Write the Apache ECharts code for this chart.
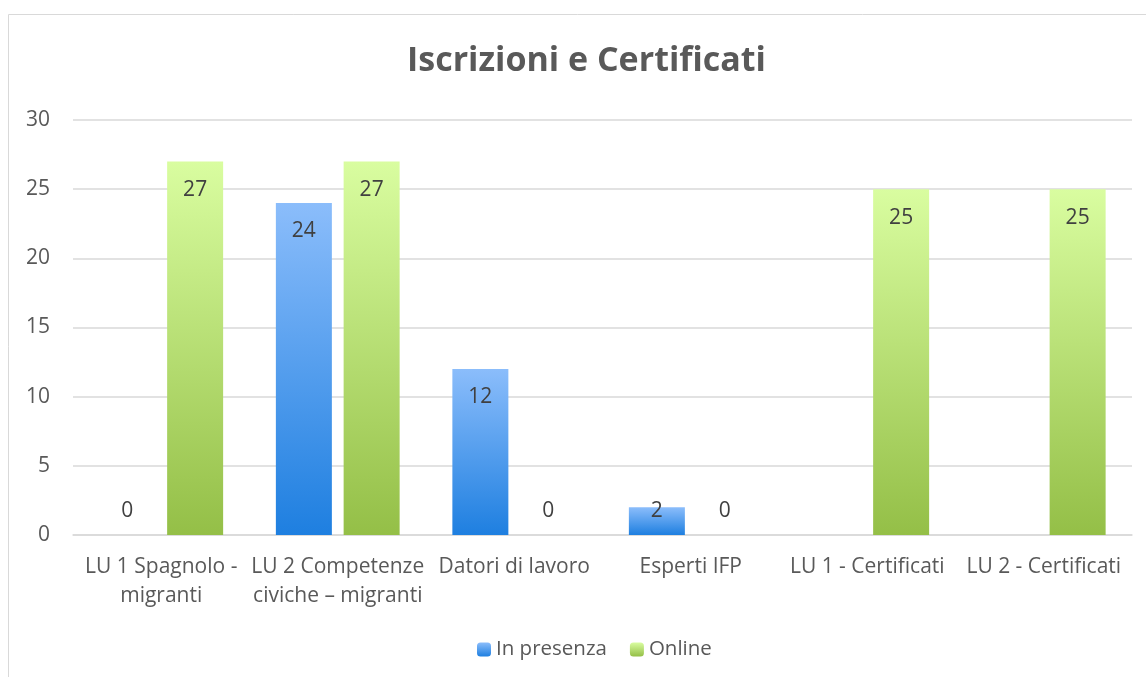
<!DOCTYPE html>
<html>
<head>
<meta charset="utf-8">
<script src="https://cdn.jsdelivr.net/npm/echarts@6/dist/echarts.min.js"></script>
<style>
html,body{margin:0;padding:0;background:#fff;}
#chart{width:1146px;height:677px;}
</style>
</head>
<body>
<div id="chart"></div>
<script>
const categories = ['LU 1 Spagnolo -\nmigranti', 'LU 2 Competenze\nciviche – migranti', 'Datori di lavoro', 'Esperti IFP', 'LU 1 - Certificati', 'LU 2 - Certificati'];
const inPresenza = [0, 24, 12, 2, null, null];
const online = [27, 27, 0, 0, 25, 25];
const yTicks = [0, 5, 10, 15, 20, 25, 30];

const FONT = 'Open Sans';
const chart = echarts.init(document.getElementById('chart'));

function withLabels(arr) {
  return arr.map(v => {
    if (v === null) return {value: null, label: {show: false}};
    if (v < 4) return {value: v, label: {position: 'insideBottom', distance: 13}};
    return v;
  });
}

const blueGrad = new echarts.graphic.LinearGradient(0, 0, 0, 1, [
  {offset: 0, color: '#8bbdfb'}, {offset: 1, color: '#1e7fe0'}
]);
const greenGrad = new echarts.graphic.LinearGradient(0, 0, 0, 1, [
  {offset: 0, color: '#d9fda0'}, {offset: 1, color: '#94bf47'}
]);

chart.setOption({
  animation: false,
  textStyle: {fontFamily: FONT},
  title: {
    text: 'Iscrizioni e Certificati',
    left: 402, top: 39,
    textStyle: {fontFamily: FONT, fontSize: 34, fontWeight: 'bold', color: '#595959'}
  },
  graphic: [{
    type: 'rect', silent: true,
    shape: {x: 8.5, y: 14.5, width: 1200, height: 700},
    style: {fill: null, stroke: '#d9d9d9', lineWidth: 1}
  }],
  legend: {
    bottom: 12, left: 472,
    itemWidth: 14, itemHeight: 14, itemGap: 23,
    textStyle: {fontFamily: FONT, fontSize: 20.5, color: '#595959'},
    data: [
      {name: 'In presenza', itemStyle: {color: blueGrad}},
      {name: 'Online', itemStyle: {color: greenGrad}}
    ]
  },
  grid: {left: 73, right: 14, top: 120, bottom: 142},
  xAxis: {
    type: 'category',
    data: categories,
    axisTick: {show: false},
    axisLine: {lineStyle: {color: '#d9d9d9', width: 1.5}},
    axisLabel: {fontFamily: FONT, fontSize: 21, color: '#595959', margin: 18, lineHeight: 29, interval: 0}
  },
  yAxis: {
    type: 'value', min: 0, max: 30, interval: 5,
    axisLine: {show: false},
    axisTick: {show: false},
    splitLine: {lineStyle: {color: '#d9d9d9', width: 1.5}},
    axisLabel: {fontFamily: FONT, fontSize: 21, color: '#595959', margin: 23,
      formatter: v => yTicks.includes(v) ? String(v) : ''}
  },
  series: [
    {
      name: 'In presenza', type: 'bar', data: withLabels(inPresenza),
      barWidth: 56, barGap: '21%',
      itemStyle: {color: blueGrad},
      label: {show: true, position: 'insideTop', distance: 18, fontFamily: FONT, fontSize: 21, color: '#404040'}
    },
    {
      name: 'Online', type: 'bar', data: withLabels(online),
      barWidth: 56, barGap: '21%',
      itemStyle: {color: greenGrad},
      label: {show: true, position: 'insideTop', distance: 18, fontFamily: FONT, fontSize: 21, color: '#404040'}
    }
  ]
});
</script>
</body>
</html>
